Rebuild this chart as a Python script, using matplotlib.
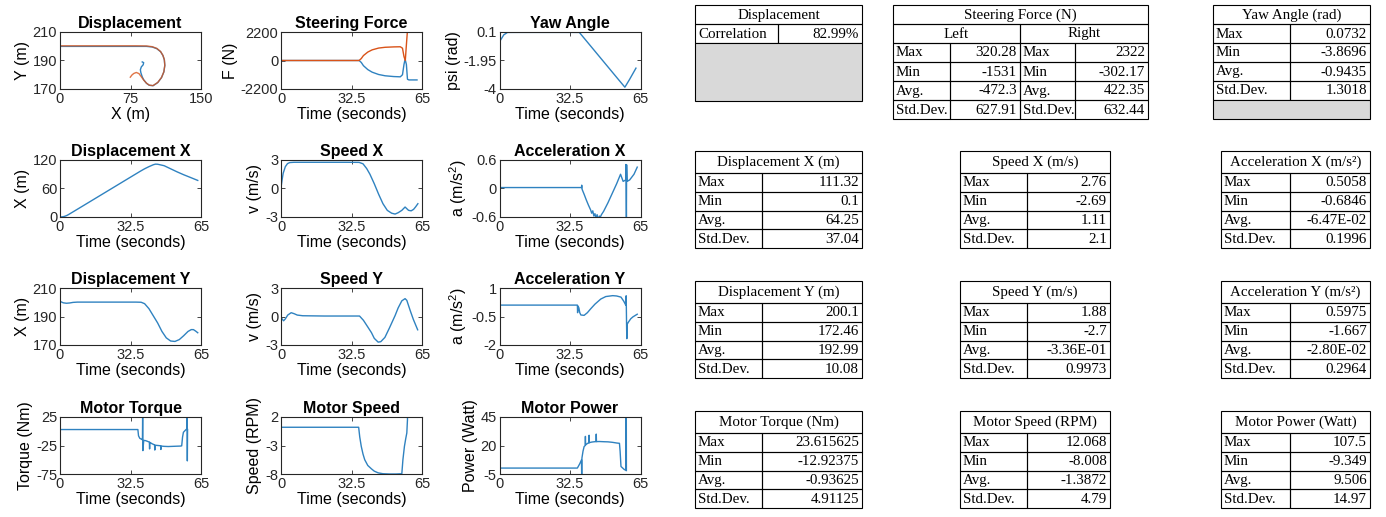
import numpy as np
import matplotlib.pyplot as plt
from matplotlib.patches import Rectangle

W, H = 1386, 517
BLUE = '#2f82c0'
ORANGE = '#d95319'
AXC = '#262626'

# ---- trajectory (X vs Y) ----
path_a_x = [0, 20, 40, 60, 80, 92, 98, 103, 107, 109.5, 111, 111.5, 110.5, 108, 104, 99, 95, 92, 89, 87.5, 86, 85.5, 86.5, 88.5, 89, 87.5]
path_a_y = [199.9, 199.9, 199.9, 199.9, 199.9, 199.9, 199.5, 198.3, 196.2, 193.5, 190.5, 186.5, 182, 178, 174.5, 172.3, 172.6, 174, 176.5, 178.5, 181.5, 183.5, 185.5, 187, 188.5, 189]
path_b_x = [0, 20, 40, 60, 80, 92, 98, 103, 107, 109.5, 111, 111.5, 110.5, 108, 104, 99, 95, 92, 89, 86.5, 84, 81.2, 78.5, 76.5, 74.8]
path_b_y = [200.3, 200.3, 200.3, 200.3, 200.3, 200.2, 199.7, 198.5, 196.3, 193.6, 190.6, 186.6, 182.1, 178.1, 174.6, 172.4, 172.7, 174.1, 176.3, 178.6, 180.8, 181.6, 180.9, 179.8, 178.3]

# ---- steering force ----
steer_l_t = [0, 36, 37, 38, 40, 42, 45, 48, 52, 55, 56, 56.7, 57.2, 57.8, 58.3, 59, 62.7]
steer_l = [0, 0, -150, -400, -700, -900, -1080, -1180, -1240, -1260, -1100, -300, 100, -300, -1450, -1500, -1500]
steer_r_t = [0, 36, 37, 38, 40, 42, 45, 48, 52, 55, 56, 56.7, 57.3, 57.8, 58.3, 62.7]
steer_r = [0, 0, 150, 380, 650, 820, 960, 1020, 1050, 1060, 950, 300, 0, 1200, 2322, 2322]

# ---- yaw ----
yaw_t = [0, 1, 2, 3.7, 10, 20, 30, 36.8, 40, 45, 50, 55, 57.8, 60, 62.9]
yaw = [-0.6, -0.35, -0.1, 0.07, 0.073, 0.073, 0.073, 0.07, -0.53, -1.47, -2.41, -3.35, -3.87, -3.3, -2.5]

# ---- displacement X / Y ----
dx_t = [0, 1, 2, 3, 4, 10, 20, 30, 37, 39, 41, 43, 44, 45, 48, 51, 54, 57, 60, 63.5]
dx = [0.1, 0.3, 1.2, 2.9, 5.3, 21.8, 49.4, 77, 96.3, 101.5, 106, 110, 111.3, 111.1, 108, 101.5, 95, 89, 83.5, 77]
dy_t = [0, 0.5, 1.5, 3, 4.5, 6, 8, 15, 25, 35, 37.4, 39, 41, 43, 45, 47, 49, 51, 53, 55, 57, 59, 60.5, 61.5, 62.5, 63.5]
dy = [200.6, 200.3, 199.6, 199.3, 199.5, 199.9, 200.1, 200.1, 200.1, 200.1, 200.0, 199, 195.5, 190.5, 185.5, 179.5, 175, 172.8, 172.5, 173.8, 176.5, 179.5, 180.8, 180.8, 179.8, 178.6]

# ---- speed X / Y ----
vx_t = [0, 0.5, 1, 2, 3, 4, 6, 10, 20, 30, 36, 37.8, 39.5, 41, 43, 45, 47, 49, 51, 52.6, 54, 55.7, 57.2, 58.8, 60, 61.1, 62, 63.1]
vx = [0.1, 0.9, 1.6, 2.3, 2.62, 2.73, 2.76, 2.76, 2.76, 2.76, 2.75, 2.6, 2.1, 1.5, 0.5, -0.6, -1.6, -2.3, -2.6, -2.69, -2.55, -2.3, -1.95, -2.3, -2.35, -2.2, -1.95, -1.6]
vy_t = [0, 0.6, 1.2, 2, 3.1, 4.7, 6, 7.5, 10, 20, 30, 36.2, 38, 40, 41.7, 43, 44.8, 46, 47.9, 50, 52.6, 54, 55.7, 57.2, 58, 59.6, 61, 63]
vy = [0, -0.3, -0.45, -0.25, 0.15, 0.4, 0.3, 0.15, 0.08, 0.05, 0.05, 0.05, -0.4, -1.1, -1.7, -2.3, -2.7, -2.65, -2.2, -1.2, 0.1, 0.9, 1.65, 1.88, 1.7, 0.6, -0.3, -1.4]

# ---- acceleration X / Y ----
ax_t = [0, 37.8, 37.9, 38.1, 39, 40, 41, 42, 42.5, 43, 43.5, 44, 44.5, 45, 45.5, 46, 46.5, 47, 48, 50, 52, 54, 55.8, 57, 58.2, 58.3, 58.5, 58.6, 58.8, 60, 62, 63.5]
acx = [0.02, 0.02, 0.07, -0.02, -0.12, -0.24, -0.35, -0.45, -0.52, -0.47, -0.58, -0.53, -0.63, -0.55, -0.68, -0.58, -0.6, -0.55, -0.48, -0.3, -0.1, 0.1, 0.3, 0.15, 0.18, 0.5058, -0.6, 0.5, 0.15, 0.18, 0.3, 0.45]
ay_t = [0, 35.9, 36.0, 36.2, 36.6, 37, 37.5, 39, 40.5, 42, 44, 46.7, 49, 52.2, 54, 56, 57.3, 58.2, 58.4, 58.6, 58.7, 58.9, 59.4, 60.5, 61.5, 63.5]
acy = [0.1, 0.1, -0.3, 0.05, -0.05, -0.3, -0.42, -0.44, -0.3, -0.1, 0.15, 0.42, 0.55, 0.5975, 0.58, 0.52, 0.3, 0.1, 0.59, -1.1, -1.667, -0.9, -0.8, -0.62, -0.52, -0.38]

# ---- motor ----
tq_t = [0, 35.9, 36.2, 36.8, 37.6, 38.0, 38.1, 38.2, 38.6, 39.5, 40.5, 41.2, 41.3, 41.4, 42.5, 43.6, 43.7, 43.8, 45.2, 46.4, 46.5, 46.6, 48.0, 49.9, 52.0, 54.0, 55.5, 56.1, 56.5, 56.9, 58.1, 58.5, 58.6, 58.7, 58.8]
tq = [3, 3, -8, -12.5, -14, -15, 23.6, -34, -16, -16.5, -18, -19, -31, -19.5, -22, -24, -33, -24.5, -25, -25.5, -32, -26, -26.5, -26.8, -26.5, -26.2, -26, -25.6, -10, -1.8, 3, 4, 23.6, -52, 3]
ms_t = [0, 35.8, 36.3, 37, 37.8, 38.6, 40, 41.7, 43, 44.8, 47, 50, 53, 55.7, 56.2, 56.9, 57.5, 58, 58.3, 58.6]
ms = [0.2, 0.2, -1.5, -3.15, -4.5, -5.5, -6.5, -7.1, -7.5, -7.8, -7.95, -8.0, -8.0, -7.95, -5.5, -3.15, -1.8, -0.8, 1.5, 12.068]
pw_t = [0, 35.9, 37, 37.8, 37.9, 38.0, 38.5, 39, 39.5, 39.6, 39.7, 40.6, 41.2, 41.3, 41.4, 42.5, 43.7, 44.5, 44.6, 44.7, 46, 48.3, 50, 52, 54, 55.3, 55.6, 56, 57.6, 58.3, 58.4, 58.5]
pw = [0.2, 0.2, 4, 7.4, -9.3, 9, 15, 19, 20, 28, 20.5, 21.9, 22.2, 29, 22.5, 23, 23.3, 23.4, 30, 23.4, 23.5, 23.3, 23.2, 22.8, 22.2, 21.9, 15, 1.6, -1.2, -1.5, 107.5, -2]

# ---- statistics tables ----
stat_names = ['Max', 'Min', 'Avg.', 'Std.Dev.']
disp_corr = '82.99%'
steer_left = ['320.28', '-1531', '-472.3', '627.91']
steer_right = ['2322', '-302.17', '422.35', '632.44']
yaw_vals = ['0.0732', '-3.8696', '-0.9435', '1.3018']
dispx_vals = ['111.32', '0.1', '64.25', '37.04']
speedx_vals = ['2.76', '-2.69', '1.11', '2.1']
accx_vals = ['0.5058', '-0.6846', '-6.47E-02', '0.1996']
dispy_vals = ['200.1', '172.46', '192.99', '10.08']
speedy_vals = ['1.88', '-2.7', '-3.36E-01', '0.9973']
accy_vals = ['0.5975', '-1.667', '-2.80E-02', '0.2964']
torque_vals = ['23.615625', '-12.92375', '-0.93625', '4.91125']
mspeed_vals = ['12.068', '-8.008', '-1.3872', '4.79']
power_vals = ['107.5', '-9.349', '9.506', '14.97']

plt.rcParams['font.family'] = ['Liberation Sans', 'DejaVu Sans']
plt.rcParams['mathtext.fontset'] = 'custom'
plt.rcParams['mathtext.rm'] = 'Liberation Sans'

fig = plt.figure(figsize=(W / 100, H / 100), dpi=100)


def px_axes(x, y, w, h):
    return fig.add_axes([x / W, 1 - (y + h) / H, w / W, h / H])


# table canvas first, so plot axes sit above it
tab = px_axes(0, 0, W, H)
tab.set_xlim(0, W)
tab.set_ylim(H, 0)
tab.axis('off')

TFONT = dict(family=['Liberation Serif', 'DejaVu Serif'], fontsize=10.8, color='black')


def cell(x0, y0, x1, y1, fill='none'):
    tab.add_patch(Rectangle((x0, y0), x1 - x0, y1 - y0, facecolor=fill,
                            edgecolor='black', lw=0.8))


def left_text(x, y0, y1, s):
    tab.text(x + 3, (y0 + y1) / 2 + 0.5, s, ha='left', va='center', **TFONT)


def right_text(x, y0, y1, s):
    tab.text(x - 3, (y0 + y1) / 2 + 0.5, s, ha='right', va='center', **TFONT)


def stat_table(x0, xs, x1, top, head_h, row_h, title, vals, gray=0):
    cell(x0, top, x1, top + head_h)
    tab.text((x0 + x1) / 2, top + head_h / 2 + 0.5, title, ha='center', va='center', **TFONT)
    y = top + head_h
    for name, v in zip(stat_names, vals):
        cell(x0, y, xs, y + row_h)
        cell(xs, y, x1, y + row_h)
        left_text(x0, y, y + row_h, name)
        right_text(x1, y, y + row_h, v)
        y += row_h
    if gray:
        cell(x0, y, x1, y + gray, fill='#d9d9d9')


# first row of tables
cell(695, 5, 862, 24)
tab.text(778.5, 15, 'Displacement', ha='center', va='center', **TFONT)
cell(695, 24, 778, 43)
cell(778, 24, 862, 43)
left_text(695, 24, 43, 'Correlation')
right_text(862, 24, 43, disp_corr)
cell(695, 43, 862, 101, fill='#d9d9d9')

cell(893, 5, 1148, 24)
tab.text(1020.5, 15, 'Steering Force (N)', ha='center', va='center', **TFONT)
cell(893, 24, 1020, 43)
cell(1020, 24, 1148, 43)
tab.text(956.5, 34, 'Left', ha='center', va='center', **TFONT)
tab.text(1084, 34, 'Right', ha='center', va='center', **TFONT)
y = 43
for name, lv, rv in zip(stat_names, steer_left, steer_right):
    for a, b in [(893, 950), (950, 1020), (1020, 1075), (1075, 1148)]:
        cell(a, y, b, y + 19)
    left_text(893, y, y + 19, name)
    right_text(1020, y, y + 19, lv)
    left_text(1020, y, y + 19, name)
    right_text(1148, y, y + 19, rv)
    y += 19

stat_table(1213, 1290, 1370, 5, 19, 19, 'Yaw Angle (rad)', yaw_vals, gray=19)

# remaining rows of tables
cols = [(695, 762, 862), (960, 1027, 1110), (1221, 1290, 1370)]
row_tops = [151, 281, 411]
table_rows = [
    [('Displacement X (m)', dispx_vals), ('Speed X (m/s)', speedx_vals), ('Acceleration X (m/s²)', accx_vals)],
    [('Displacement Y (m)', dispy_vals), ('Speed Y (m/s)', speedy_vals), ('Acceleration Y (m/s²)', accy_vals)],
    [('Motor Torque (Nm)', torque_vals), ('Motor Speed (RPM)', mspeed_vals), ('Motor Power (Watt)', power_vals)],
]
for top, row in zip(row_tops, table_rows):
    for (x0, xs, x1), (title, vals) in zip(cols, row):
        stat_table(x0, xs, x1, top, 22, 18.8, title, vals)

# ---- plots ----
col_x = [60, 281, 499.5]
row_y = [32, 160, 288, 417]
T_TICKS = [0, 32.5, 65]
T_LABELS = ['0', '32.5', '65']


def make_plot(r, c, title, ylabel, yticks, ylabels, xlabel='Time (seconds)',
              xticks=T_TICKS, xlabels=T_LABELS):
    ax = px_axes(col_x[c], row_y[r], 141, 57)
    ax.set_title(title, fontsize=11.5, fontweight='bold', pad=3, color='black')
    ax.set_xlim(xticks[0], xticks[-1])
    ax.set_ylim(yticks[0], yticks[-1])
    ax.set_xticks(xticks, xlabels)
    ax.set_yticks(yticks, ylabels)
    ax.set_xlabel(xlabel, fontsize=11.5, labelpad=1, color='black')
    ax.set_ylabel(ylabel, fontsize=11.5, labelpad=2, color='black')
    ax.tick_params(direction='in', length=3, width=0.6, labelsize=10.5,
                   top=True, right=True, colors=AXC, pad=2)
    for s in ax.spines.values():
        s.set_color(AXC)
        s.set_linewidth(0.8)
    return ax


lw = 1.0
a = make_plot(0, 0, 'Displacement', 'Y (m)', [170, 190, 210], ['170', '190', '210'],
              xlabel='X (m)', xticks=[0, 75, 150], xlabels=['0', '75', '150'])
a.plot(path_a_x, path_a_y, color=BLUE, lw=lw)
a.plot(path_b_x, path_b_y, color=ORANGE, lw=lw, alpha=0.8)

a = make_plot(0, 1, 'Steering Force', 'F (N)', [-2200, 0, 2200], ['-2200', '0', '2200'])
a.plot(steer_l_t, steer_l, color=BLUE, lw=lw)
a.plot(steer_r_t, steer_r, color=ORANGE, lw=lw)

a = make_plot(0, 2, 'Yaw Angle', 'psi (rad)', [-4, -1.95, 0.1], ['-4', '-1.95', '0.1'])
a.plot(yaw_t, yaw, color=BLUE, lw=lw)

a = make_plot(1, 0, 'Displacement X', 'X (m)', [0, 60, 120], ['0', '60', '120'])
a.plot(dx_t, dx, color=BLUE, lw=lw)

a = make_plot(1, 1, 'Speed X', 'v (m/s)', [-3, 0, 3], ['-3', '0', '3'])
a.plot(vx_t, vx, color=BLUE, lw=lw)

a = make_plot(1, 2, 'Acceleration X', 'a (m/s$^2$)', [-0.6, 0, 0.6], ['-0.6', '0', '0.6'])
a.plot(ax_t, acx, color=BLUE, lw=lw)

a = make_plot(2, 0, 'Displacement Y', 'X (m)', [170, 190, 210], ['170', '190', '210'])
a.plot(dy_t, dy, color=BLUE, lw=lw)

a = make_plot(2, 1, 'Speed Y', 'v (m/s)', [-3, 0, 3], ['-3', '0', '3'])
a.plot(vy_t, vy, color=BLUE, lw=lw)

a = make_plot(2, 2, 'Acceleration Y', 'a (m/s$^2$)', [-2, -0.5, 1], ['-2', '-0.5', '1'])
a.plot(ay_t, acy, color=BLUE, lw=lw)

a = make_plot(3, 0, 'Motor Torque', 'Torque (Nm)', [-75, -25, 25], ['-75', '-25', '25'])
a.plot(tq_t, tq, color=BLUE, lw=lw)

a = make_plot(3, 1, 'Motor Speed', 'Speed (RPM)', [-8, -3, 2], ['-8', '-3', '2'])
a.plot(ms_t, ms, color=BLUE, lw=lw)

a = make_plot(3, 2, 'Motor Power', 'Power (Watt)', [-5, 20, 45], ['-5', '20', '45'])
a.plot(pw_t, pw, color=BLUE, lw=lw)

fig.savefig('out.png', dpi=100)
